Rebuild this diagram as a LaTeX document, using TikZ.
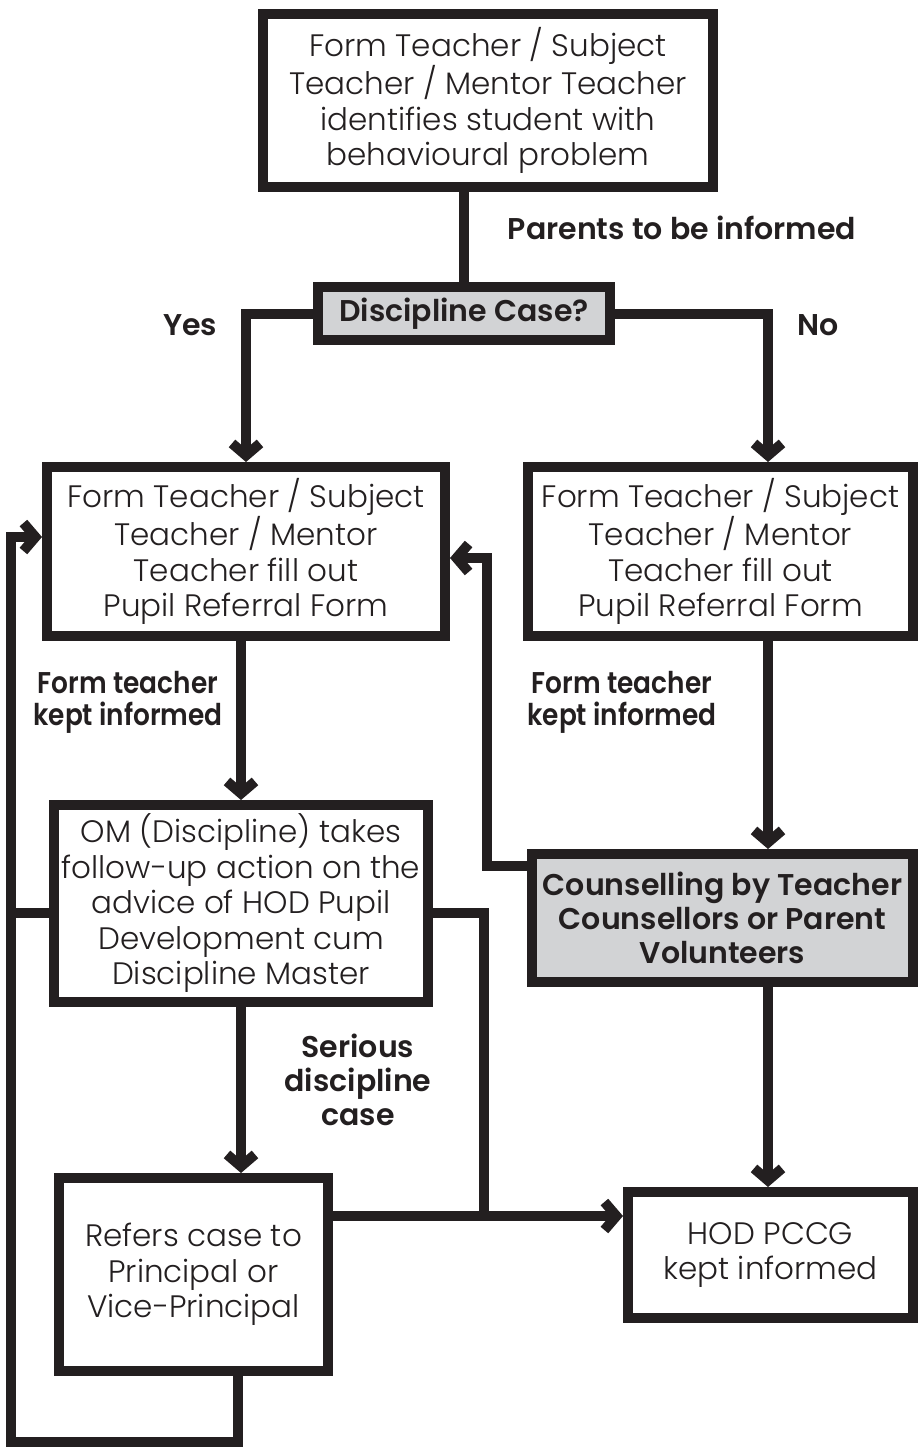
\documentclass[tikz,border=0pt]{standalone}
\usepackage{fontspec}
\setmainfont{Poppins Light}[BoldFont={Poppins SemiBold}]
\newfontfamily\narrowfont{Poppins SemiBold}[FakeStretch=0.88]
\usetikzlibrary{arrows.meta}
\def\bw{10pt}
\definecolor{ink}{RGB}{35,31,32}
\definecolor{shade}{RGB}{210,211,213}
\newcommand{\boxfont}{\fontsize{31}{35.5}\selectfont}
\newcommand{\labfont}{\fontsize{30}{34}\selectfont\bfseries}

\begin{document}
\begin{tikzpicture}[x=1pt,y=-1pt,line width=\bw,draw=ink,
    >={Straight Barb[length=12pt,width=28pt]}]
            \tikzstyle{box}=[draw=ink,line width=\bw,fill=white,align=center,inner sep=0pt,text=ink,font=\boxfont]
            \tikzstyle{grey box}=[box,fill=shade,font=\labfont]
            \tikzstyle{annot}=[align=center,text=ink,font=\labfont]
            \tikzstyle{narrow annot}=[annot,font=\narrowfont\fontsize{30}{32}\selectfont]
            \tikzstyle{link}=[draw=ink,line width=\bw]

            \useasboundingbox (0,0) rectangle (919,1447);

            % Boxes
            \node[box,minimum width=450pt,minimum height=173pt] (start) at (488,100.5)
                {Form Teacher / Subject\\Teacher / Mentor Teacher\\identifies student with\\behavioural problem};
            \node[grey box,minimum width=292pt,minimum height=53pt] (case) at (464,313.5)
                {Discipline Case?};
            \node[box,minimum width=398pt,minimum height=169pt] (refL) at (246,551.5)
                {Form Teacher / Subject\\Teacher / Mentor\\Teacher fill out\\Pupil Referral Form};
            \node[box,minimum width=385pt,minimum height=169pt] (refR) at (720.5,551.5)
                {Form Teacher / Subject\\Teacher / Mentor\\Teacher fill out\\Pupil Referral Form};
            \node[box,minimum width=374pt,minimum height=197pt] (om) at (241,903.5)
                {OM (Discipline) takes\\follow-up action on the\\advice of HOD Pupil\\Development cum\\Discipline Master};
            \node[grey box,minimum width=381pt,minimum height=128pt] (counsel) at (722.5,918)
                {Counselling by Teacher\\Counsellors or Parent\\Volunteers};
            \node[box,minimum width=269pt,minimum height=193pt] (refer) at (193.5,1274.5)
                {Refers case to\\Principal or\\Vice-Principal};
            \node[box,minimum width=285pt,minimum height=126pt] (hod) at (770.5,1255)
                {HOD PCCG\\kept informed};

            % Labels
            \node[annot] (parents) at (682,228) {Parents to be informed};
            \node[annot] (yes) at (190,325) {Yes};
            \node[annot] (no) at (818,325) {No};
            \node[narrow annot] (ftL) at (128,702) {Form teacher\\kept informed};
            \node[narrow annot] (ftR) at (622,702) {Form teacher\\kept informed};
            \node[annot] (serious) at (358,1080) {Serious\\discipline\\case};

            % Corner points
            \coordinate (rcol) at (768,0);
            \coordinate (omrow) at (0,913);
            \coordinate (hrow) at (484,1216);
            \coordinate (back) at (487,558);
            \coordinate (loopB) at (11,1442);
            \coordinate (loopT) at (11,537);

            % Connectors
            \draw[link] (start.south -| case.north) -- (case.north);
            \draw[link,->] (case.west) -| (refL.north);
            \draw[link,->] (case.east) -| (refR.north -| rcol);
            \draw[link,->] (refR.south -| rcol) -- (counsel.north -| rcol);
            \draw[link,->] (counsel.south -| rcol) -- (hod.north -| rcol);
            \draw[link,->] (refL.south -| om.north) -- (om.north);
            \draw[link,->] (om.south) -- (om.south |- refer.north);
            \draw[link,->] (refer.east |- hrow) -- (hod.west |- hrow);
            \draw[link] (om.east |- omrow) -| (hrow);
            \draw[link,->] (counsel.west |- 0,866) -| (back) -- (refL.east |- back);
            \draw[link] (om.west |- omrow) -- (omrow -| loopT);
            \draw[link,->] (refer.south -| 238,0) |- (loopB) -- (loopT) -- (refL.west |- loopT);
        \end{tikzpicture}
\end{document}
